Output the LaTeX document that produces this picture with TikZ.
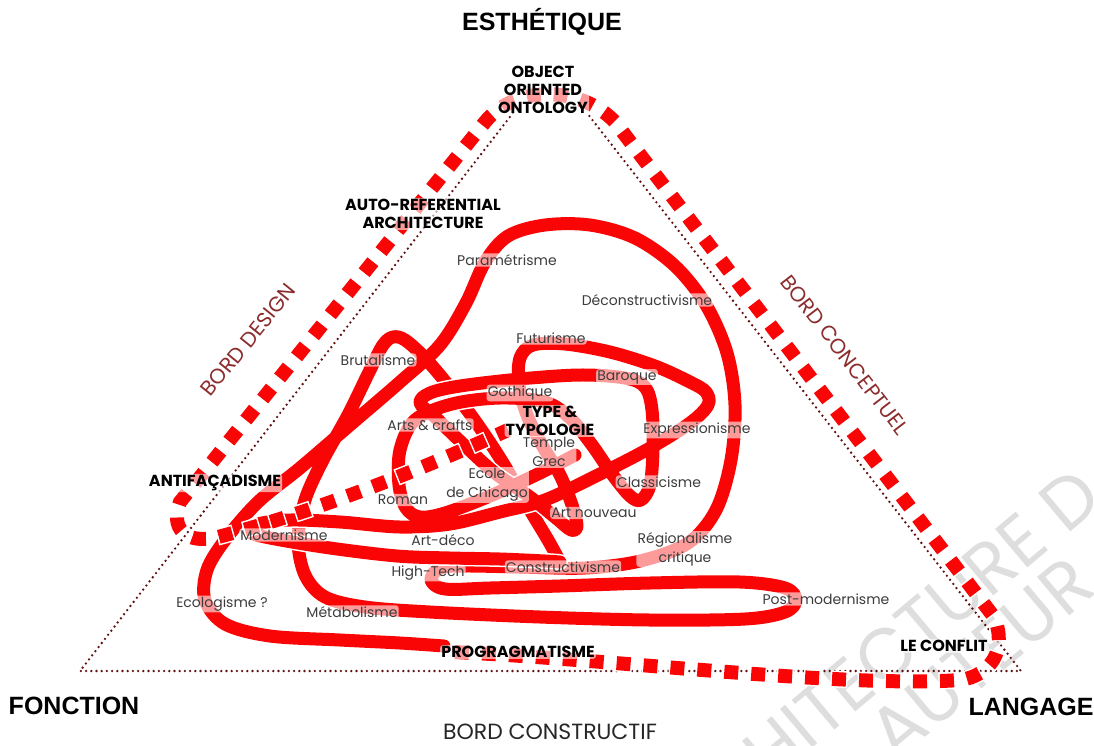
\documentclass[tikz,border=0pt]{standalone}
\usepackage{fontspec}
\newfontfamily\labelfont{Poppins}
\newfontfamily\titlefont{Liberation Sans}
\definecolor{rouge}{RGB}{250,5,5}
\definecolor{brun}{RGB}{95,15,15}
\definecolor{bordrouge}{RGB}{140,45,45}
\definecolor{gristexte}{RGB}{60,60,60}

\begin{document}
\begin{tikzpicture}[x=1pt, y=-1pt,
      pointille/.style={draw=brun, line width=2.6pt, line cap=round, dash pattern=on 0pt off 5.2pt},
      frontiere/.style={draw=rouge, line width=14pt, dash pattern=on 14pt off 13pt,
        preaction={draw=white, line width=17pt, dash pattern=on 17pt off 10pt, dash phase=1.5pt}},
      gribouillis/.style={draw=rouge, line width=13pt, line cap=round, line join=round,
        preaction={draw=white, line width=16pt, line cap=round, line join=round}},
      voile/.style={fill=white, fill opacity=0.6, text opacity=1, rounded corners=3pt, inner sep=1.2pt},
      pole/.style={font=\titlefont\bfseries\fontsize{25}{25}\selectfont},
      bord/.style={font=\labelfont\fontsize{21}{21}\selectfont, text=bordrouge},
      concept/.style={voile, font=\labelfont\bfseries\fontsize{16}{18}\selectfont, align=center},
      courant/.style={voile, font=\labelfont\fontsize{14}{19}\selectfont, text=gristexte, align=center},
      filigrane/.style={font=\labelfont\fontsize{72}{72}\selectfont, text=black!13, rotate=40}]
      \useasboundingbox (0,0) rectangle (1094,745);
      \node[filigrane, anchor=east] (filigraneA) at (1092,481) {ARCHITECTURE D};
      \node[filigrane] (filigraneB) at (981,658) {AUTEUR};

      \draw[pointille] (513,113) -- (80,671) -- (1021,671) -- (587,113);

      \draw[gribouillis] plot[smooth, tension=0.55] coordinates {
        (444,646) (400,643) (340,640) (270,636) (225,624) (205,600) (207,570) (225,540)
        (258,502) (300,468) (350,425) (400,382) (440,345) (466,303) (485,262) (508,236)
        (545,225) (590,225) (635,238) (675,266) (706,305) (727,353) (735,405) (731,460)
        (716,510) (688,543) (640,561) (585,568) (520,567) (465,566) (440,568) (431,580)
        (445,589) (490,588) (560,586) (650,583) (740,582) (785,588) (796,600) (785,612)
        (745,619) (650,620) (540,617) (430,612) (365,607) (325,597) (305,575) (298,540)
        (305,500) (323,460) (348,415) (370,370) (383,345) (393,337) (405,340) (425,358)
        (452,390) (478,425) (503,463) (527,505) (548,540) (560,562)};
      \draw[gribouillis] plot[smooth, tension=0.55] coordinates {
        (560,562) (545,561) (500,559) (450,558) (397,556) (330,548) (270,538) (250,532)
        (258,524) (290,520) (340,522) (400,527) (450,524) (500,512) (545,500) (600,474)
        (650,448) (690,423) (708,405) (706,392) (690,382) (655,366) (610,352) (565,344)
        (533,345) (520,358) (519,385) (527,415) (542,445) (560,475) (572,505) (577,526)
        (571,530) (556,518) (530,497) (495,473) (462,443) (435,417) (420,403) (430,393)
        (460,386) (520,379) (580,375) (625,378) (645,387) (652,410) (653,450) (650,485)
        (641,500) (630,496) (612,474) (592,445) (570,418) (545,402) (500,398) (452,404)
        (415,420) (400,450) (399,485) (406,508) (420,517) (445,513) (490,496) (540,473)
        (575,455)};

      \draw[frontiere] (455,652) .. controls (620,660) and (850,688) .. (960,680)
        .. controls (990,676) and (1008,650) .. (994,617) -- (615,122)
        .. controls (580,85) and (515,85) .. (485,122) -- (180,502)
        .. controls (170,528) and (185,545) .. (218,537)
        .. controls (320,510) and (420,470) .. (508,430);

      \node[pole] (esthetique) at (542,22) {ESTHÉTIQUE};
      \node[pole] (fonction) at (74,706) {FONCTION};
      \node[pole] (langage) at (1031,707) {LANGAGE};
      \node[bord, rotate=51] (borddesign) at (248,340) {BORD DESIGN};
      \node[bord, rotate=-52.5] (bordconceptuel) at (845,355) {BORD CONCEPTUEL};
      \node[bord, text=black!85, font=\labelfont\fontsize{22}{22}\selectfont] (bordconstructif) at (550,732) {BORD CONSTRUCTIF};

      \node[concept] (ooo) at (543,90) {OBJECT\\ORIENTED\\ONTOLOGY};
      \node[concept] (autoref) at (423,214) {AUTO-REFERENTIAL\\ARCHITECTURE};
      \node[concept] (antifacadisme) at (215,483) {ANTIFAÇADISME};
      \node[concept] (type) at (550,421) {TYPE \&\\TYPOLOGIE};
      \node[concept] (programmatisme) at (518,652) {PROGRAGMATISME};
      \node[concept] (conflit) at (944,646) {LE CONFLIT};

      \node[courant] (parametrisme) at (507,260) {Paramétrisme};
      \node[courant] (deconstructivisme) at (647,300) {Déconstructivisme};
      \node[courant] (futurisme) at (551,338) {Futurisme};
      \node[courant] (brutalisme) at (378,360) {Brutalisme};
      \node[courant] (baroque) at (627,377) {Baroque};
      \node[courant] (gothique) at (520,393) {Gothique};
      \node[courant] (arts) at (430,425) {Arts \& crafts};
      \node[courant] (expressionisme) at (697,430) {Expressionisme};
      \node[courant] (temple) at (549,452) {Temple\\Grec};
      \node[courant] (chicago) at (487,485) {Ecole\\de Chicago};
      \node[courant] (roman) at (403,500) {Roman};
      \node[courant] (classicisme) at (659,482) {Classicisme};
      \node[courant] (artnouveau) at (594,513) {Art nouveau};
      \node[courant] (modernisme) at (284,535) {Modernisme};
      \node[courant] (artdeco) at (443,540) {Art-déco};
      \node[courant] (hightech) at (428,573) {High-Tech};
      \node[courant] (constructivisme) at (563,567) {Constructivisme};
      \node[courant] (regionalisme) at (685,549) {Régionalisme\\critique};
      \node[courant] (ecologisme) at (222,604) {Ecologisme ?};
      \node[courant] (metabolisme) at (352,612) {Métabolisme};
      \node[courant] (postmodernisme) at (826,599) {Post-modernisme};
\end{tikzpicture}
\end{document}
